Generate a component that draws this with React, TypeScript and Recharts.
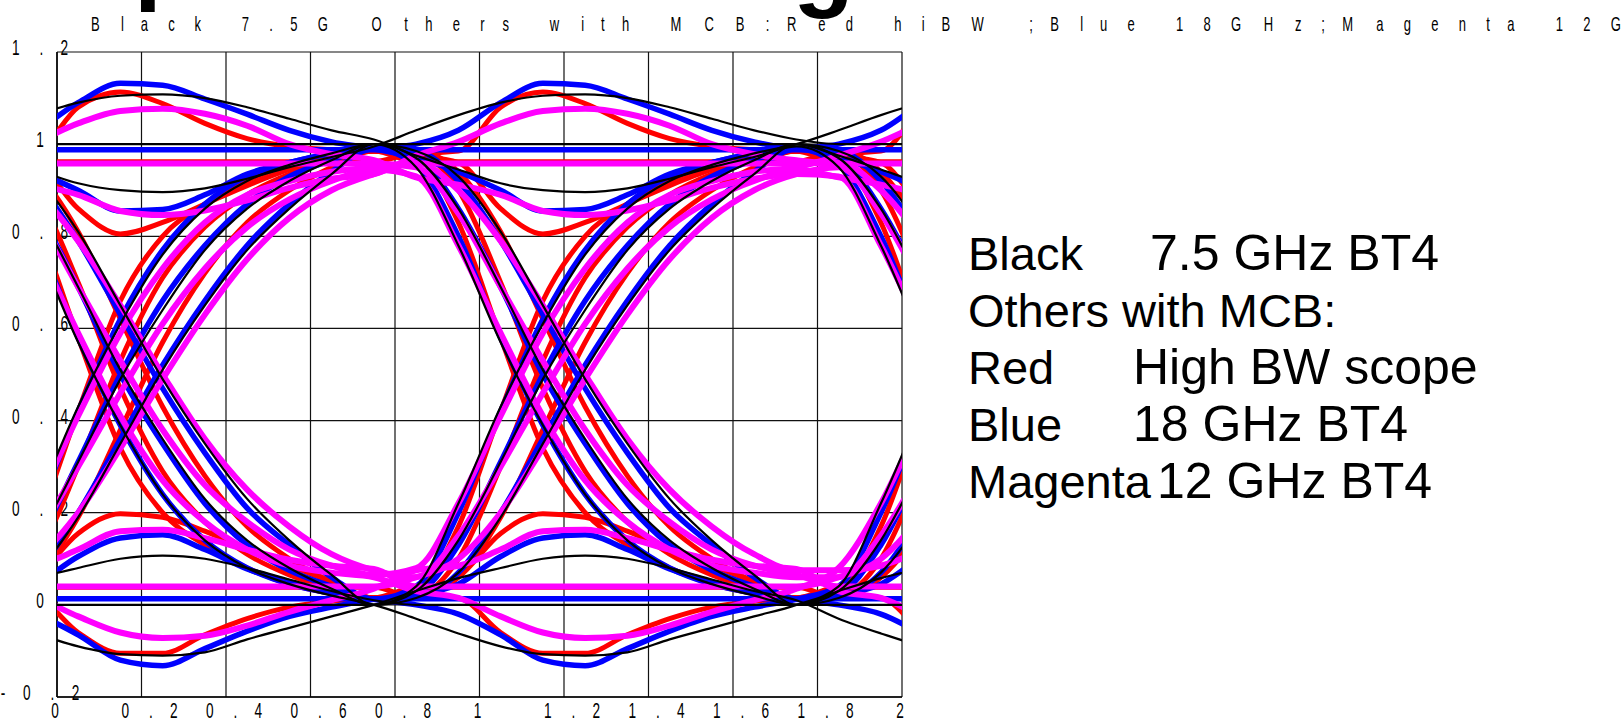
import React from 'react';
import { LineChart, Line, XAxis, YAxis, CartesianGrid } from 'recharts';

// sample times: each bit segment spans 1 UI between convergence points (-0.25, 0.75, 1.75, 2.75)
const TIME = [-0.25, -0.15, -0.05, 0.05, 0.15, 0.25, 0.35, 0.45, 0.55, 0.65, 0.75,
  0.85, 0.95, 1.05, 1.15, 1.25, 1.35, 1.45, 1.55, 1.65, 1.75,
  1.85, 1.95, 2.05, 2.15, 2.25, 2.35, 2.45, 2.55, 2.65, 2.75];

const X_TICKS = [0, 0.2, 0.4, 0.6, 0.8, 1, 1.2, 1.4, 1.6, 1.8, 2];
const X_LABELS = ['0', '0.2', '0.4', '0.6', '0.8', '1', '1.2', '1.4', '1.6', '1.8', '2'];
const Y_TICKS = [-0.2, 0, 0.2, 0.4, 0.6, 0.8, 1, 1.2];
const Y_LABELS = ['-0.2', '0', '0.2', '0.4', '0.6', '0.8', '1', '1.2'];

// ---- Black: 7.5 GHz BT4 ----
const K_HH_FLAT = [1, 1, 1, 1, 1, 1, 1, 1, 1, 1, 1];
const K_HH_BUMP = [1.0, 1.03, 1.063, 1.09, 1.105, 1.108, 1.1, 1.08, 1.055, 1.03, 1.01];
const K_HH_DIP = [0.995, 0.975, 0.945, 0.915, 0.9, 0.896, 0.904, 0.925, 0.95, 0.972, 0.995];
const K_LL_FLAT = [0, 0, 0, 0, 0, 0, 0, 0, 0, 0, 0];
const K_LL_BUMP = [0.005, 0.03, 0.058, 0.08, 0.1, 0.107, 0.1, 0.08, 0.055, 0.03, 0.01];
const K_LL_DIP = [0.0, -0.03, -0.062, -0.09, -0.107, -0.11, -0.103, -0.075, -0.05, -0.025, 0.0];
const K_LH_E = [0.0, 0.04, 0.22, 0.43, 0.61, 0.76, 0.86, 0.92, 0.955, 0.98, 1.0];
const K_LH_M = [0.0, 0.03, 0.14, 0.31, 0.49, 0.64, 0.77, 0.86, 0.92, 0.965, 1.0];
const K_LH_L = [0.0, 0.015, 0.07, 0.19, 0.35, 0.51, 0.65, 0.77, 0.86, 0.935, 1.0];
const K_HL_E = [1.0, 0.95, 0.78, 0.57, 0.39, 0.24, 0.14, 0.08, 0.045, 0.02, 0.0];
const K_HL_M = [1.0, 0.97, 0.86, 0.69, 0.51, 0.36, 0.23, 0.14, 0.08, 0.035, 0.0];
const K_HL_L = [1.0, 0.985, 0.93, 0.81, 0.65, 0.49, 0.35, 0.23, 0.14, 0.065, 0.0];

// ---- Blue: 18 GHz BT4 ----
const B_HH_FLAT = [0.988, 0.988, 0.988, 0.988, 0.988, 0.988, 0.988, 0.988, 0.988, 0.988, 0.988];
const B_HH_BUMP = [0.99, 1.0, 1.03, 1.09, 1.132, 1.128, 1.098, 1.065, 1.03, 1.005, 0.99];
const B_HH_DIP = [0.99, 0.97, 0.94, 0.9, 0.855, 0.858, 0.89, 0.935, 0.96, 0.98, 0.99];
const B_LL_FLAT = [0.013, 0.013, 0.013, 0.013, 0.013, 0.013, 0.013, 0.013, 0.013, 0.013, 0.013];
const B_LL_BUMP = [0.012, 0.02, 0.045, 0.105, 0.145, 0.152, 0.12, 0.078, 0.05, 0.03, 0.012];
const B_LL_DIP = [0.012, 0.0, -0.02, -0.065, -0.12, -0.132, -0.095, -0.057, -0.025, -0.005, 0.012];
const B_LH_E = [0.012, 0.04, 0.2, 0.42, 0.62, 0.77, 0.87, 0.93, 0.96, 0.98, 0.99];
const B_LH_M = [0.012, 0.025, 0.13, 0.31, 0.5, 0.66, 0.78, 0.87, 0.93, 0.965, 0.99];
const B_LH_L = [0.012, 0.015, 0.07, 0.2, 0.36, 0.52, 0.66, 0.78, 0.87, 0.94, 0.99];
const B_HL_E = [0.99, 0.955, 0.8, 0.58, 0.39, 0.24, 0.14, 0.08, 0.045, 0.025, 0.012];
const B_HL_M = [0.99, 0.97, 0.86, 0.69, 0.5, 0.35, 0.22, 0.13, 0.075, 0.04, 0.012];
const B_HL_L = [0.99, 0.985, 0.92, 0.79, 0.63, 0.47, 0.33, 0.21, 0.13, 0.06, 0.012];

// ---- Red: high BW scope ----
const R_HH_FLAT = [0.962, 0.962, 0.962, 0.962, 0.962, 0.962, 0.962, 0.962, 0.962, 0.962, 0.962];
const R_HH_BUMP = [0.985, 0.98, 0.985, 1.08, 1.113, 1.088, 1.045, 1.012, 0.995, 0.988, 0.985];
const R_HH_DIP = [0.985, 0.975, 0.96, 0.86, 0.805, 0.83, 0.87, 0.91, 0.945, 0.97, 0.985];
const R_LL_FLAT = [0.038, 0.038, 0.038, 0.038, 0.038, 0.038, 0.038, 0.038, 0.038, 0.038, 0.038];
const R_LL_BUMP = [0.015, 0.02, 0.06, 0.155, 0.198, 0.19, 0.16, 0.12, 0.085, 0.05, 0.015];
const R_LL_DIP = [0.015, 0.02, 0.015, -0.06, -0.105, -0.105, -0.065, -0.03, -0.005, 0.008, 0.015];
const R_LH_E = [0.015, 0.03, 0.17, 0.42, 0.66, 0.8, 0.87, 0.92, 0.955, 0.975, 0.985];
const R_LH_M = [0.015, 0.02, 0.1, 0.3, 0.53, 0.71, 0.82, 0.89, 0.935, 0.965, 0.985];
const R_LH_L = [0.015, 0.015, 0.06, 0.19, 0.38, 0.57, 0.72, 0.83, 0.9, 0.95, 0.985];
const R_HL_E = [0.985, 0.97, 0.83, 0.58, 0.34, 0.2, 0.13, 0.08, 0.045, 0.025, 0.015];
const R_HL_M = [0.985, 0.98, 0.9, 0.7, 0.47, 0.29, 0.18, 0.11, 0.065, 0.035, 0.015];
const R_HL_L = [0.985, 0.985, 0.94, 0.81, 0.62, 0.43, 0.28, 0.17, 0.1, 0.05, 0.015];

// ---- Magenta: 12 GHz BT4 ----
const M_HH_FLAT = [0.958, 0.958, 0.958, 0.958, 0.958, 0.958, 0.958, 0.958, 0.958, 0.958, 0.958];
const M_HH_BUMP = [0.965, 0.975, 1.005, 1.045, 1.072, 1.077, 1.066, 1.04, 1.0, 0.978, 0.965];
const M_HH_DIP = [0.935, 0.928, 0.912, 0.89, 0.855, 0.846, 0.856, 0.878, 0.905, 0.925, 0.935];
const M_LL_FLAT = [0.04, 0.04, 0.04, 0.04, 0.04, 0.04, 0.04, 0.04, 0.04, 0.04, 0.04];
const M_LL_BUMP = [0.075, 0.075, 0.085, 0.12, 0.16, 0.163, 0.145, 0.12, 0.098, 0.085, 0.078];
const M_LL_DIP = [0.035, 0.03, 0.015, -0.025, -0.06, -0.072, -0.067, -0.045, -0.015, 0.01, 0.035];
const M_LH_E = [0.05, 0.08, 0.22, 0.41, 0.59, 0.73, 0.83, 0.89, 0.92, 0.94, 0.95];
const M_LH_M = [0.05, 0.06, 0.15, 0.3, 0.46, 0.61, 0.73, 0.82, 0.88, 0.92, 0.945];
const M_LH_L = [0.06, 0.06, 0.1, 0.2, 0.34, 0.49, 0.63, 0.75, 0.84, 0.9, 0.935];
const M_HL_E = [0.96, 0.93, 0.78, 0.59, 0.41, 0.27, 0.18, 0.12, 0.085, 0.07, 0.06];
const M_HL_M = [0.96, 0.95, 0.85, 0.69, 0.53, 0.38, 0.26, 0.18, 0.12, 0.085, 0.065];
const M_HL_L = [0.96, 0.96, 0.9, 0.79, 0.65, 0.5, 0.36, 0.25, 0.17, 0.11, 0.075];

// bit-pattern recipes: which segment shape in each of the three UI slots
const TRACE_PATTERNS = [
  ['HH_BUMP', 'HH_DIP', 'HL_E'],
  ['HH_DIP', 'HH_BUMP', 'HH_FLAT'],
  ['HH_FLAT', 'HL_M', 'LL_FLAT'],
  ['LH_E', 'HH_FLAT', 'HL_L'],
  ['LH_M', 'HL_E', 'LH_M'],
  ['LH_L', 'HL_L', 'LL_BUMP'],
  ['HL_E', 'LL_DIP', 'LH_E'],
  ['HL_M', 'LH_E', 'HH_BUMP'],
  ['HL_L', 'LH_M', 'HH_DIP'],
  ['LL_FLAT', 'LH_L', 'HL_M'],
  ['LL_BUMP', 'LL_FLAT', 'LH_L'],
  ['LL_DIP', 'LL_BUMP', 'LL_DIP'],
];

const SERIES = [
  { key: 'red', color: '#ff0000', width: 5, seg: { HH_FLAT: R_HH_FLAT, HH_BUMP: R_HH_BUMP, HH_DIP: R_HH_DIP, LL_FLAT: R_LL_FLAT, LL_BUMP: R_LL_BUMP, LL_DIP: R_LL_DIP, LH_E: R_LH_E, LH_M: R_LH_M, LH_L: R_LH_L, HL_E: R_HL_E, HL_M: R_HL_M, HL_L: R_HL_L } },
  { key: 'blue', color: '#0000ff', width: 5.5, seg: { HH_FLAT: B_HH_FLAT, HH_BUMP: B_HH_BUMP, HH_DIP: B_HH_DIP, LL_FLAT: B_LL_FLAT, LL_BUMP: B_LL_BUMP, LL_DIP: B_LL_DIP, LH_E: B_LH_E, LH_M: B_LH_M, LH_L: B_LH_L, HL_E: B_HL_E, HL_M: B_HL_M, HL_L: B_HL_L } },
  { key: 'magenta', color: '#ff00ff', width: 6, seg: { HH_FLAT: M_HH_FLAT, HH_BUMP: M_HH_BUMP, HH_DIP: M_HH_DIP, LL_FLAT: M_LL_FLAT, LL_BUMP: M_LL_BUMP, LL_DIP: M_LL_DIP, LH_E: M_LH_E, LH_M: M_LH_M, LH_L: M_LH_L, HL_E: M_HL_E, HL_M: M_HL_M, HL_L: M_HL_L } },
  { key: 'black', color: '#000000', width: 2.2, seg: { HH_FLAT: K_HH_FLAT, HH_BUMP: K_HH_BUMP, HH_DIP: K_HH_DIP, LL_FLAT: K_LL_FLAT, LL_BUMP: K_LL_BUMP, LL_DIP: K_LL_DIP, LH_E: K_LH_E, LH_M: K_LH_M, LH_L: K_LH_L, HL_E: K_HL_E, HL_M: K_HL_M, HL_L: K_HL_L } },
];

const rows: any[] = TIME.map((t) => ({ t }));
SERIES.forEach((s) => {
  TRACE_PATTERNS.forEach((pat, j) => {
    const a = (s.seg as any)[pat[0]];
    const b = (s.seg as any)[pat[1]];
    const c = (s.seg as any)[pat[2]];
    const vals = [...a, ...b.slice(1), ...c.slice(1)];
    vals.forEach((v: number, i: number) => {
      rows[i][`${s.key}${j}`] = v;
    });
  });
});

const FONT = 'Liberation Sans, Arial, Helvetica, sans-serif';

// Arial advance widths (em) used to lay out the widely-spaced, condensed label text
const ADV: Record<string, number> = {
  B: 0.667, l: 0.222, a: 0.556, c: 0.5, k: 0.5, ' ': 0.278, '7': 0.556, '.': 0.278, '5': 0.556,
  G: 0.778, O: 0.778, t: 0.278, h: 0.556, e: 0.556, r: 0.333, s: 0.5, w: 0.722, i: 0.222,
  M: 0.833, C: 0.722, ':': 0.278, R: 0.722, d: 0.556, W: 0.944, ';': 0.278, u: 0.556,
  '1': 0.556, '8': 0.556, H: 0.722, z: 0.5, g: 0.556, n: 0.556, '2': 0.556, '0': 0.556,
  '4': 0.556, '6': 0.556, '-': 0.333,
};
const GAP_CONST = 14.6;
const GAP_PER_EM = 23.2;
const GLYPH_SCALE = 0.62;

function layoutChars(label: string, fontSize: number) {
  const lefts: number[] = [];
  let p = 0;
  for (const ch of label) {
    lefts.push(p);
    p += GAP_CONST + GAP_PER_EM * (ADV[ch] ?? 0.556);
  }
  const last = label[label.length - 1];
  const span = lefts[lefts.length - 1] + (ADV[last] ?? 0.556) * fontSize * GLYPH_SCALE;
  return { lefts, span };
}

function SpacedText({ label, left, baseline, fontSize }: { label: string; left: number; baseline: number; fontSize: number }) {
  const { lefts } = layoutChars(label, fontSize);
  return (
    <g>
      {label.split('').map((ch, i) => (
        <text
          key={i}
          transform={`translate(${left + lefts[i]},${baseline}) scale(${GLYPH_SCALE},1)`}
          fontSize={fontSize}
          fontFamily={FONT}
          fill="#000"
        >
          {ch}
        </text>
      ))}
    </g>
  );
}

function XTick(props: any) {
  const { x, payload } = props;
  const idx = X_TICKS.indexOf(payload.value);
  const label = idx >= 0 ? X_LABELS[idx] : String(payload.value);
  const { span } = layoutChars(label, 22);
  const center = label.length > 1 ? x + 8 : x - 2;
  return <SpacedText label={label} left={center - span / 2} baseline={718} fontSize={22} />;
}

function YTick(props: any) {
  const { y, payload } = props;
  const idx = Y_TICKS.indexOf(payload.value);
  const label = idx >= 0 ? Y_LABELS[idx] : String(payload.value);
  const { span } = layoutChars(label, 22);
  return <SpacedText label={label} left={40 - span / 2} baseline={y + 3} fontSize={22} />;
}

const TITLE = 'Black 7.5G Others with MCB:Red hiBW ;Blue 18GHz;Magenta 12G';
const LEGEND_NAMES = ['Black', 'Others with MCB:', 'Red', 'Blue', 'Magenta'];
const LEGEND_DESCS = ['7.5 GHz BT4', '', 'High BW scope', '18 GHz BT4', '12 GHz BT4'];
const LEGEND_DESC_X = [1150, 0, 1133, 1133, 1157];

const CHART_MARGIN = { top: 52, right: 720, bottom: 0, left: 0 };

export default function App() {
  return (
    <div style={{ position: 'absolute', left: 0, top: 0, width: 1622, height: 723, overflow: 'hidden', background: '#fff' }}>
      {/* bottom layer: tick labels and grid (the traces are drawn over them, as in the reference) */}
      <div style={{ position: 'absolute', left: 0, top: 0 }}>
        <LineChart width={1622} height={723} data={rows} margin={CHART_MARGIN}>
          <CartesianGrid stroke="#111" strokeWidth={1.2} />
          <XAxis
            dataKey="t"
            type="number"
            domain={[0, 2]}
            ticks={X_TICKS}
            interval={0}
            allowDataOverflow
            height={26}
            tickLine={false}
            axisLine={{ stroke: '#000', strokeWidth: 1.5 }}
            tick={<XTick />}
          />
          <YAxis
            type="number"
            domain={[-0.2, 1.2]}
            ticks={Y_TICKS}
            interval={0}
            allowDataOverflow
            width={57}
            tickLine={false}
            axisLine={{ stroke: '#000', strokeWidth: 1.5 }}
            tick={<YTick />}
          />
        </LineChart>
      </div>
      {/* top layer: traces */}
      <div style={{ position: 'absolute', left: 0, top: 0 }}>
        <LineChart width={1622} height={723} data={rows} margin={CHART_MARGIN}>
          <XAxis
            dataKey="t"
            type="number"
            domain={[0, 2]}
            ticks={X_TICKS}
            interval={0}
            allowDataOverflow
            height={26}
            tickLine={false}
            axisLine={false}
            tick={false}
          />
          <YAxis
            type="number"
            domain={[-0.2, 1.2]}
            ticks={Y_TICKS}
            interval={0}
            allowDataOverflow
            width={57}
            tickLine={false}
            axisLine={false}
            tick={false}
          />
          {SERIES.map((s) =>
            TRACE_PATTERNS.map((_, j) => (
              <Line
                key={`${s.key}${j}`}
                dataKey={`${s.key}${j}`}
                type="monotone"
                stroke={s.color}
                strokeWidth={s.width}
                dot={false}
                activeDot={false}
                isAnimationActive={false}
              />
            ))
          )}
        </LineChart>
      </div>
      <svg width={1622} height={723} style={{ position: 'absolute', left: 0, top: 0, pointerEvents: 'none' }}>
        <text x={134} y={-9} fontSize={100} fontWeight="bold" fontFamily={FONT} fill="#000">p</text>
        <text x={793} y={-2} fontSize={100} fontWeight="bold" fontFamily={FONT} fill="#000">g</text>
        <SpacedText label={TITLE} left={91} baseline={31} fontSize={21} />
        {LEGEND_NAMES.map((name, i) => (
          <g key={i}>
            <text x={968} y={270 + i * 57} fontSize={47} fontFamily={FONT} fill="#000">{name}</text>
            {LEGEND_DESCS[i] ? (
              <text x={LEGEND_DESC_X[i]} y={270 + i * 57} fontSize={50} fontFamily={FONT} fill="#000">{LEGEND_DESCS[i]}</text>
            ) : null}
          </g>
        ))}
      </svg>
    </div>
  );
}
